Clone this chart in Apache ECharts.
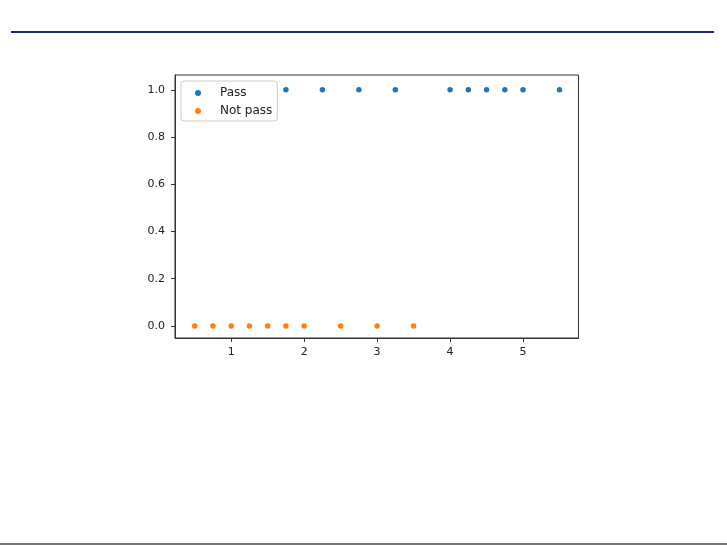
<!DOCTYPE html>
<html>
<head>
<meta charset="utf-8">
<script src="https://cdn.jsdelivr.net/npm/echarts@6/dist/echarts.min.js"></script>
<style>html,body{margin:0;padding:0;background:#fff;}#c{width:727px;height:545px;}</style>
</head>
<body>
<div id="c"></div>
<script>
var passHours = [1.75, 2.25, 2.75, 3.25, 4, 4.25, 4.5, 4.75, 5, 5.5];
var passValues = [1, 1, 1, 1, 1, 1, 1, 1, 1, 1];
var failHours = [0.5, 0.75, 1, 1.25, 1.5, 1.75, 2, 2.5, 3, 3.5];
var failValues = [0, 0, 0, 0, 0, 0, 0, 0, 0, 0];
var xTicks = [1, 2, 3, 4, 5];
var yTicks = [0, 0.2, 0.4, 0.6, 0.8, 1.0];
var seriesNames = ['Pass', 'Not pass'];

function pairs(xs, ys) { return xs.map(function (x, i) { return [x, ys[i]]; }); }

var chart = echarts.init(document.getElementById('c'), null, {renderer: 'canvas'});
var labelStyle = {color: '#222', fontFamily: 'DejaVu Sans', fontSize: 11};
chart.setOption({
  animation: false,
  backgroundColor: '#fff',
  grid: {left: 175, top: 75, right: 148.5, bottom: 207, show: true, borderColor: '#333', borderWidth: 1, backgroundColor: 'transparent'},
  xAxis: {
    type: 'value', min: 0.23, max: 5.76,
    axisLine: {show: true, onZero: false, lineStyle: {color: '#333', width: 1}},
    axisTick: {show: true, customValues: xTicks, length: 4, lineStyle: {color: '#333'}},
    axisLabel: Object.assign({customValues: xTicks, margin: 9}, labelStyle),
    splitLine: {show: false}
  },
  yAxis: {
    type: 'value', min: -0.051, max: 1.063,
    axisLine: {show: true, onZero: false, lineStyle: {color: '#333', width: 1}},
    axisTick: {show: true, customValues: yTicks, length: 4, lineStyle: {color: '#333'}},
    axisLabel: Object.assign({customValues: yTicks, margin: 10, formatter: function (v) { return v.toFixed(1); }}, labelStyle),
    splitLine: {show: false}
  },
  legend: {
    orient: 'vertical', left: 181, top: 81,
    padding: [6, 5, 4, 14],
    itemWidth: 34, itemHeight: 6, itemGap: 6,
    icon: 'circle',
    textStyle: {color: '#222', fontFamily: 'DejaVu Sans', fontSize: 12, lineHeight: 12},
    borderColor: '#ccc', borderWidth: 1, borderRadius: 3,
    backgroundColor: 'rgba(255,255,255,0.8)',
    data: seriesNames
  },
  series: [
    {name: seriesNames[0], type: 'scatter', data: pairs(passHours, passValues), symbolSize: 5.5,
     itemStyle: {color: '#1f77b4', opacity: 1}},
    {name: seriesNames[1], type: 'scatter', data: pairs(failHours, failValues), symbolSize: 5.5,
     itemStyle: {color: '#ff7f0e', opacity: 1}}
  ],
  graphic: [
    {type: 'line', shape: {x1: 11, y1: 32, x2: 714, y2: 32}, style: {stroke: '#1f2470', lineWidth: 2}},
    {type: 'line', shape: {x1: 0, y1: 544, x2: 727, y2: 544}, style: {stroke: '#777', lineWidth: 2}}
  ]
});
</script>
</body>
</html>
